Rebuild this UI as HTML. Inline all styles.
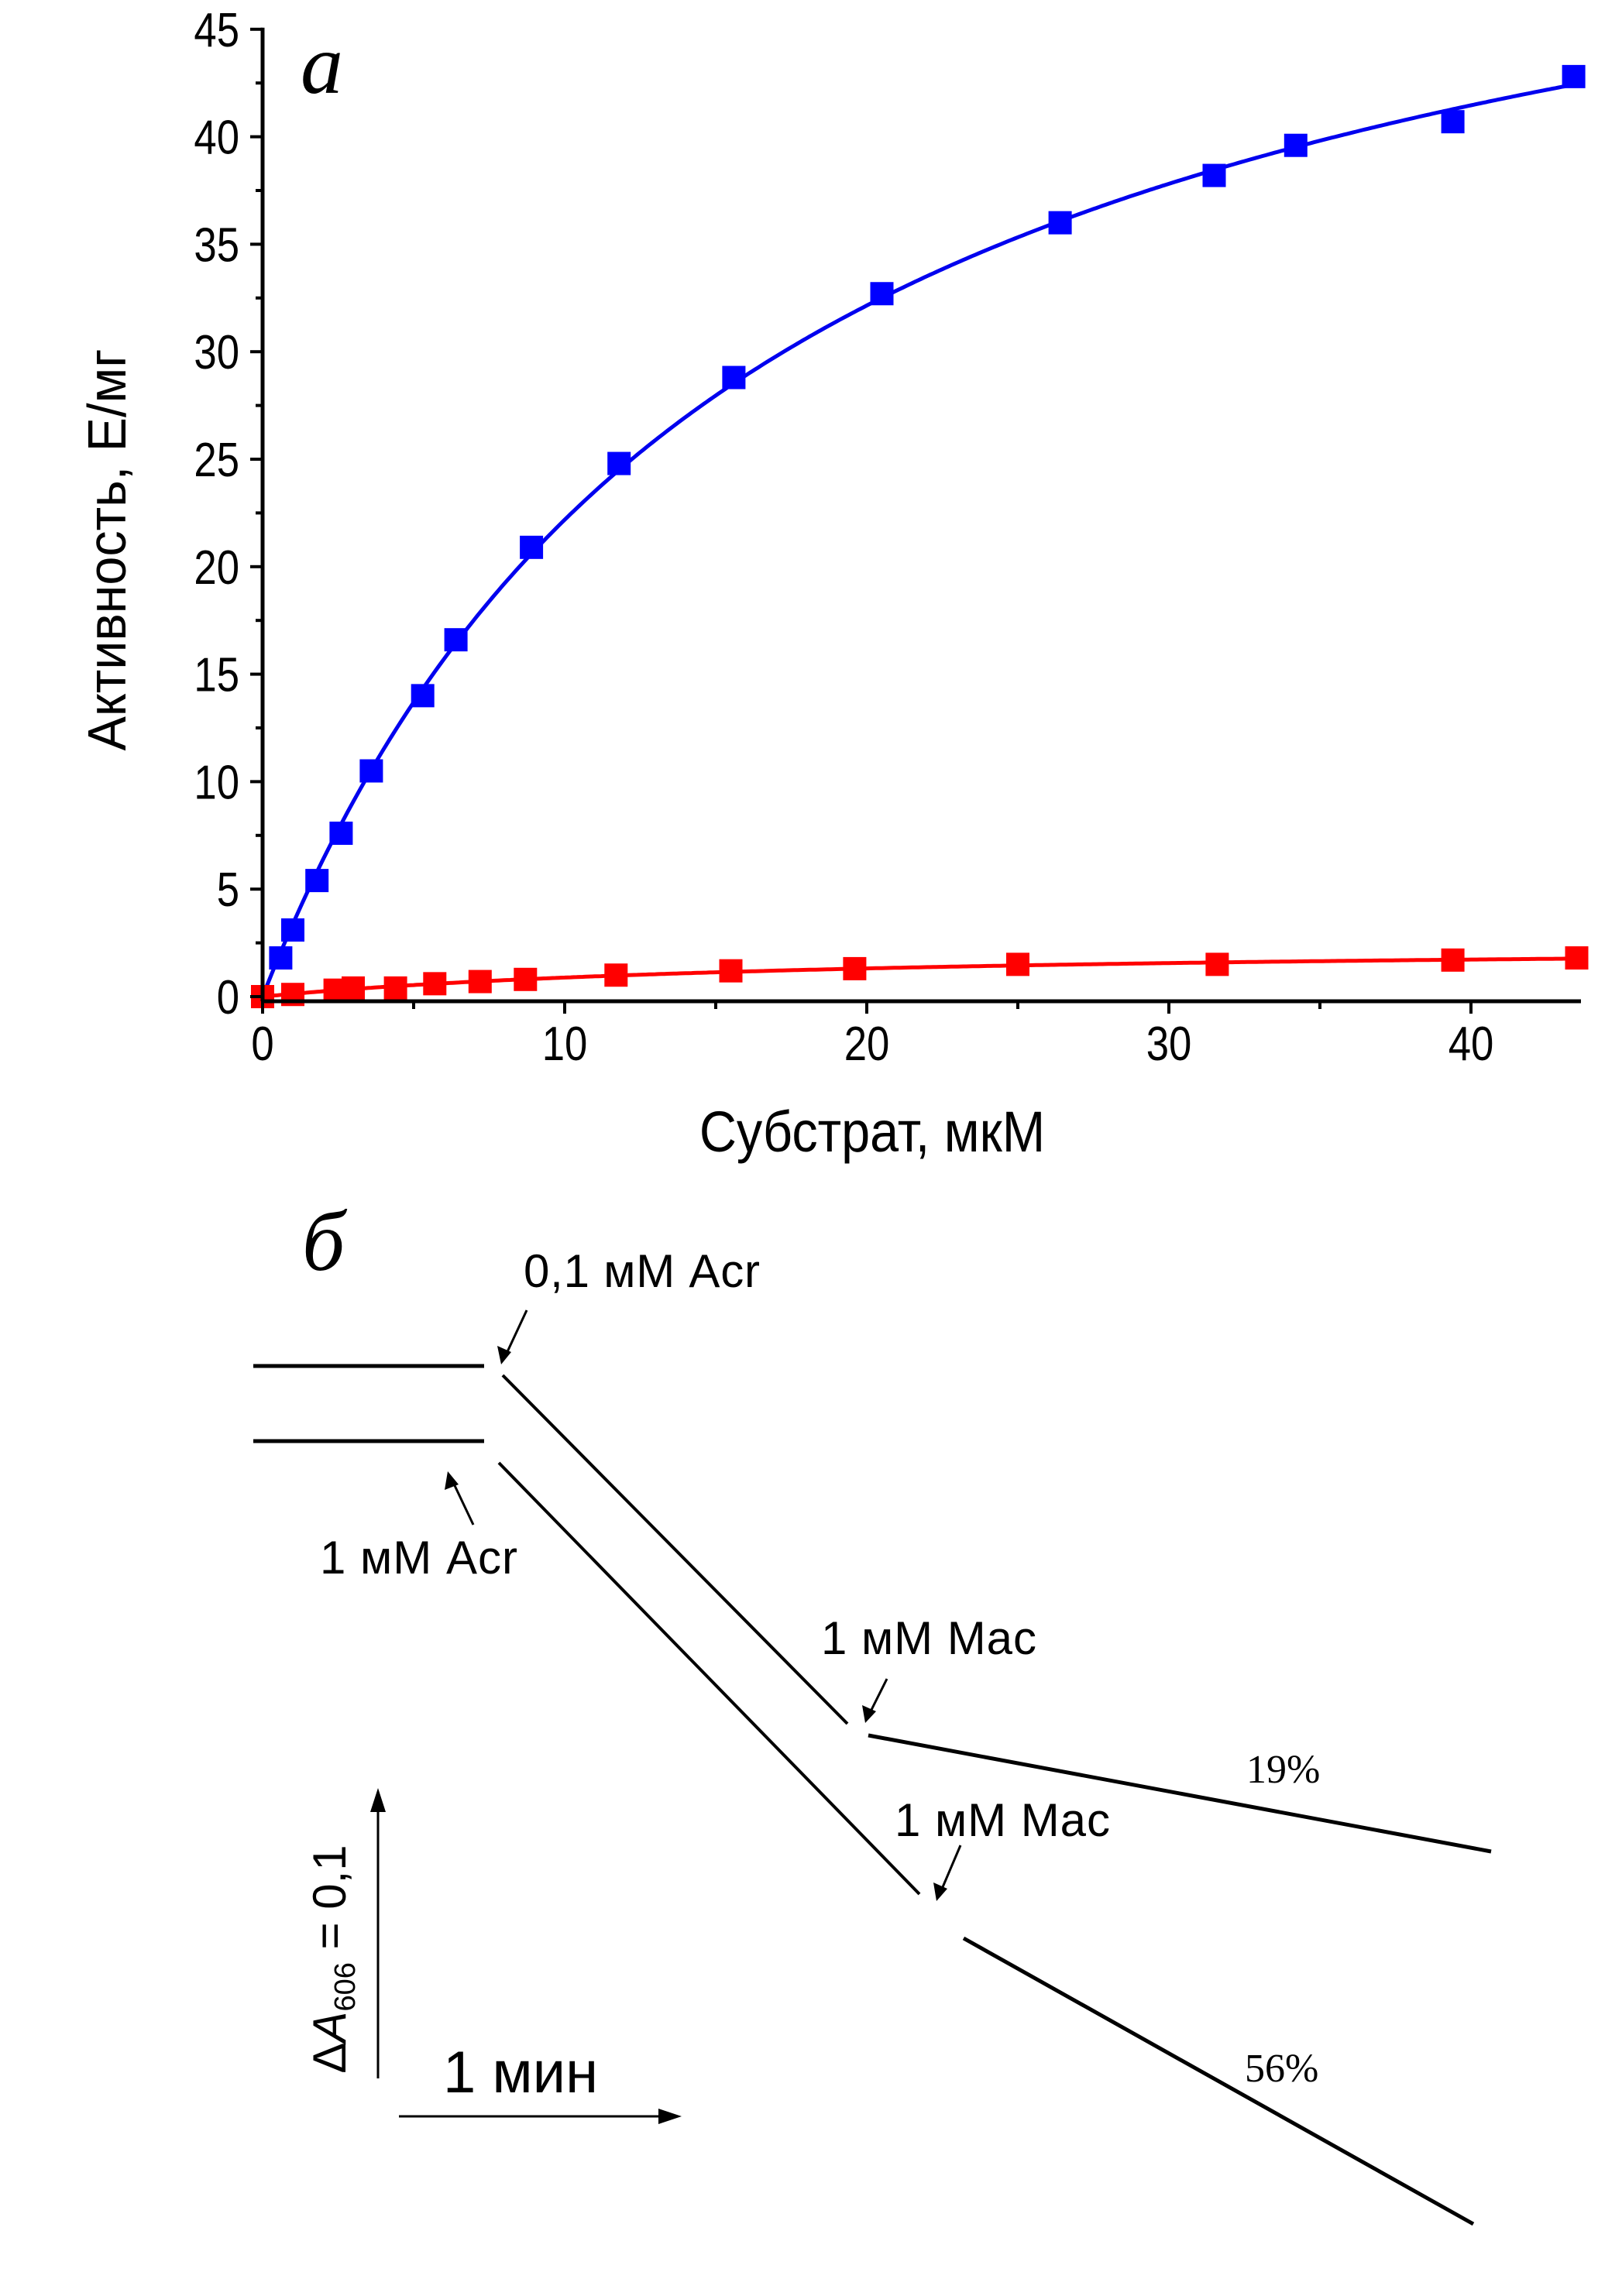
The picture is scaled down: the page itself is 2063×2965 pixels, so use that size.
<!DOCTYPE html>
<html><head><meta charset="utf-8"><style>
html,body{margin:0;padding:0;background:#fff}
svg{display:block}
text{font-family:"Liberation Sans",sans-serif;fill:#000}
</style></head><body>
<svg id="fig" width="2063" height="2965" viewBox="0 0 2063 2965" xmlns="http://www.w3.org/2000/svg">
<g id="chartA"></g>
<g id="panelB" stroke="#000" stroke-width="5" fill="none">
  <text x="390" y="1640" font-size="110" font-style="italic" stroke="none" style="font-family:'Liberation Serif',serif">б</text>
  <line x1="327" y1="1764" x2="625" y2="1764"/>
  <line x1="327" y1="1861" x2="625" y2="1861"/>
  <line x1="649" y1="1776" x2="1094" y2="2226" stroke-width="4"/>
  <line x1="644" y1="1889" x2="1187" y2="2446" stroke-width="4"/>
  <line x1="1121" y1="2241" x2="1925" y2="2391"/>
  <line x1="1244" y1="2503" x2="1902" y2="2872"/>
  <g stroke-width="3">
    <line x1="680" y1="1692" x2="652" y2="1752"/>
    <polygon points="647,1762 642,1738 660,1746" fill="#000" stroke="none"/>
    <line x1="611" y1="1969" x2="583" y2="1910"/>
    <polygon points="578,1900 592,1917 574,1924" fill="#000" stroke="none"/>
    <line x1="1145" y1="2168" x2="1122" y2="2214"/>
    <polygon points="1117,2225 1113,2202 1131,2210" fill="#000" stroke="none"/>
    <line x1="1240" y1="2383" x2="1214" y2="2444"/>
    <polygon points="1209,2455 1205,2431 1223,2439" fill="#000" stroke="none"/>
    <line x1="488" y1="2684" x2="488" y2="2335"/>
    <polygon points="488,2309 478,2340 498,2340" fill="#000" stroke="none"/>
    <line x1="515" y1="2733" x2="855" y2="2733"/>
    <polygon points="880,2733 850,2723 850,2743" fill="#000" stroke="none"/>
  </g>
  <g stroke="none" font-size="60">
    <text x="676" y="1662" textLength="305">0,1 мМ Acr</text>
    <text x="413" y="2032" textLength="255">1 мМ Acr</text>
    <text x="1060" y="2136" textLength="278">1 мМ Mac</text>
    <text x="1155" y="2371" textLength="278">1 мМ Mac</text>
    <text x="1609" y="2302" font-size="52" style="font-family:'Liberation Serif',serif">19%</text>
    <text x="1607" y="2688" font-size="52" style="font-family:'Liberation Serif',serif">56%</text>
    <text x="572" y="2702" font-size="76">1 мин</text>
    <text transform="translate(446,2530) rotate(-90)" text-anchor="middle">Δ<tspan font-style="italic">A</tspan><tspan font-size="38" dy="12">606</tspan><tspan dy="-12"> = 0,1</tspan></text>
  </g>
</g>
</svg>
<script>
const blueX=[0.6,1.0,1.8,2.6,3.6,5.3,6.4,8.9,11.8,15.6,20.5,26.4,31.5,34.2,39.4,43.4];
const blueY=[1.8,3.1,5.4,7.6,10.5,14.0,16.6,20.9,24.8,28.8,32.7,36.0,38.2,39.6,40.7,42.8];
const redX=[0,1.0,2.4,3.0,4.4,5.7,7.2,8.7,11.7,15.5,19.6,25.0,31.6,39.4,43.5];
const redY=[0,0.1,0.3,0.4,0.4,0.6,0.7,0.8,1.0,1.2,1.3,1.5,1.5,1.7,1.8];
const xTicks=[0,10,20,30,40];
const yTicks=[0,5,10,15,20,25,30,35,40,45];

const NS="http://www.w3.org/2000/svg";
const g=document.getElementById('chartA');
const X0=339,XU=39.0,Y0=1287,YU=27.76,XEND=2041;
function sx(v){return X0+v*XU;}
function sy(v){return Y0-v*YU;}
function mk(t,a){const e=document.createElementNS(NS,t);for(const k in a)e.setAttribute(k,a[k]);g.appendChild(e);return e;}

// least-squares hyperbolic (Michaelis-Menten) fit computed from data arrays
function fitMM(xs,ys){
  let best=[1,1],err=Infinity;
  for(let km=0.5;km<200;km*=1.02){
    let num=0,den=0;
    xs.forEach((x,i)=>{const f=x/(km+x);num+=f*ys[i];den+=f*f;});
    const vm=num/den;let e=0;
    xs.forEach((x,i)=>{const d=vm*x/(km+x)-ys[i];e+=d*d;});
    if(e<err){err=e;best=[vm,km];}
  }
  return best;
}
function fitPath(xs,ys){
  const [vm,km]=fitMM(xs,ys);
  let d='';
  for(let x=0;x<=43.6;x+=0.1){d+=(d?' L':'M')+sx(x).toFixed(1)+','+sy(vm*x/(km+x)).toFixed(1);}
  return d;
}
let e;
e=mk('path',{d:fitPath(blueX,blueY),stroke:'#0000ee','stroke-width':5,fill:'none'});


e=mk('path',{d:fitPath(redX,redY),stroke:'#ff0000','stroke-width':5,fill:'none'});


blueX.forEach((x,i)=>{
  const r=mk('rect',{x:sx(x)-15,y:sy(blueY[i])-15,width:30,height:30,fill:'#0000ff'});
  
  
});
redX.forEach((x,i)=>{
  const r=mk('rect',{x:sx(x)-15,y:sy(redY[i])-15,width:30,height:30,fill:'#ff0000'});
  
  
});
e=mk('line',{x1:X0,y1:sy(45)-2,x2:X0,y2:Y0+6,stroke:'#000','stroke-width':5});


e=mk('line',{x1:X0-2,y1:Y0+6,x2:XEND,y2:Y0+6,stroke:'#000','stroke-width':5});


for(let v=0;v<=45;v+=2.5){
  const major=v%5===0;
  mk('line',{x1:X0-(major?16:9),y1:sy(v),x2:X0,y2:sy(v),stroke:'#000','stroke-width':4});
}
yTicks.forEach(v=>{
  const t=mk('text',{transform:'translate('+(X0-30)+','+(sy(v)+22)+') scale(0.85,1)','text-anchor':'end','font-size':62});
  t.textContent=v;
  
  
});
for(let v=0;v<=43;v+=5){
  const major=v%10===0;
  mk('line',{x1:sx(v),y1:Y0+6,x2:sx(v),y2:Y0+6+(major?16:10),stroke:'#000','stroke-width':4});
}
xTicks.forEach(v=>{
  const t=mk('text',{transform:'translate('+sx(v)+','+(Y0+82)+') scale(0.85,1)','text-anchor':'middle','font-size':62});
  t.textContent=v;
  
  
});
e=mk('text',{transform:'translate(1126,1487) scale(0.9,1)','text-anchor':'middle','font-size':74});
e.textContent='Субстрат, мкМ';


e=mk('text',{transform:'translate(162,710) rotate(-90) scale(0.95,1)','text-anchor':'middle','font-size':70});
e.textContent='Активность, Е/мг';


e=mk('text',{x:388,y:120,'font-size':110,'font-style':'italic',style:"font-family:'Liberation Serif',serif"});
e.textContent='а';


</script>
</body></html>
